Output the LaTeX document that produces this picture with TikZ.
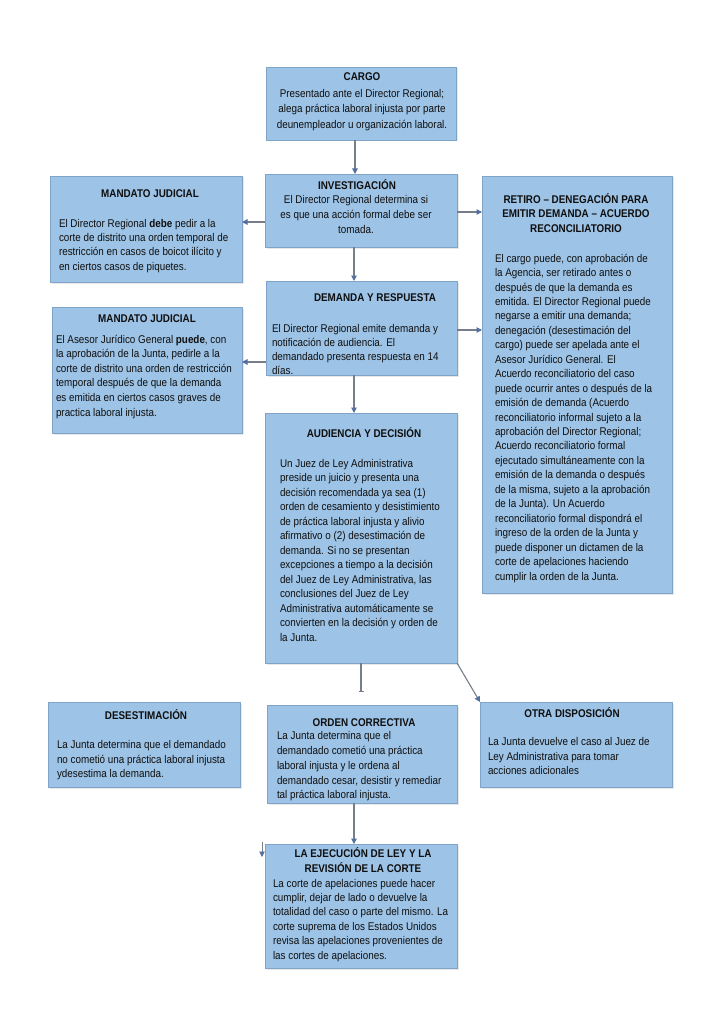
\documentclass[tikz,border=0pt]{standalone}
\usepackage{fontspec}
\setmainfont{Liberation Sans}[FakeStretch=0.88]
\usetikzlibrary{arrows.meta,shadows}
\definecolor{boxfill}{RGB}{157,195,230}
\definecolor{boxline}{RGB}{128,163,200}
\definecolor{linec}{RGB}{118,126,138}
\definecolor{tipc}{RGB}{84,112,160}
\definecolor{txtc}{RGB}{15,15,15}
\begin{document}
\begin{tikzpicture}[x=1pt,y=-1pt,
  box/.style={draw=boxline, line width=0.6pt, fill=boxfill, anchor=north west, inner sep=0pt, outer sep=0pt,
    drop shadow={shadow xshift=1.5pt, shadow yshift=-1.5pt, opacity=0.18}},
  hd/.style={inner sep=0pt, outer sep=0pt, anchor=north, align=center, text=txtc, font=\bfseries\fontsize{11.2}{#1}\selectfont},
  hd/.default=14.5,
  bd/.style={inner sep=0pt, outer sep=0pt, anchor=north west, align=left, text=txtc, font=\fontsize{11.2}{#1}\selectfont},
  bd/.default=14.5,
  bdc/.style={inner sep=0pt, outer sep=0pt, anchor=north, align=center, text=txtc, font=\fontsize{11.2}{#1}\selectfont},
  bdc/.default=14.5,
  arr/.style={draw=linec, line width=1.1pt, -{Triangle[length=5.5pt,width=5.5pt,color=tipc]}},
  barr/.style={draw=linec, line width=1.1pt, -{Bar[width=5pt,line width=1.1pt]}}
]
\useasboundingbox (0,0) rectangle (721,1024);
\fill[white] (0,0) rectangle (721,1024);

% ---------- boxes ----------
\node[box, minimum width=190pt, minimum height=73pt] (cargo) at (266,67) {};
\node[box, minimum width=192pt, minimum height=73pt] (invest) at (265,174) {};
\node[box, minimum width=191pt, minimum height=94pt] (demanda) at (266,281) {};
\node[box, minimum width=192pt, minimum height=106pt] (mand1) at (50,176) {};
\node[box, minimum width=190pt, minimum height=126pt] (mand2) at (52,307) {};
\node[box, minimum width=190pt, minimum height=417pt] (retiro) at (482,176) {};
\node[box, minimum width=192pt, minimum height=250pt] (aud) at (265,413) {};
\node[box, minimum width=192pt, minimum height=85pt] (desest) at (48,702) {};
\node[box, minimum width=190pt, minimum height=98pt] (orden) at (267,705) {};
\node[box, minimum width=192pt, minimum height=85pt] (otra) at (480,702) {};
\node[box, minimum width=192pt, minimum height=124pt] (ejec) at (265,844) {};

% ---------- texts ----------
\node[hd] (cargo-h) at (362,70.4) {\strut CARGO};
\node[bdc=15.5] (cargo-b) at (362,86.5) {\strut Presentado ante el Director Regional;\\alega práctica laboral injusta por parte\\deunempleador u organización laboral.};

\node[hd] (invest-h) at (357,179) {\strut INVESTIGACIÓN};
\node[bdc=14.7] (invest-b) at (356,193.7) {\strut El Director Regional determina si\\es que una acción formal debe ser\\tomada.};

\node[hd] (demanda-h) at (375,291) {\strut DEMANDA Y RESPUESTA};
\node[bd=14.3] (demanda-b) at (272,322) {\strut El Director Regional emite demanda y\\notificación de audiencia. El\\demandado presenta respuesta en 14\\días.};

\node[hd] (mand1-h) at (150,187) {\strut MANDATO JUDICIAL};
\node[bd=14.4] (mand1-b) at (59,217) {\strut El Director Regional \textbf{debe} pedir a la\\corte de distrito una orden temporal de\\restricción en casos de boicot ilícito y\\en ciertos casos de piquetes.};

\node[hd] (mand2-h) at (147,312) {\strut MANDATO JUDICIAL};
\node[bd=14.6] (mand2-b) at (56,332.8) {\strut El Asesor Jurídico General \textbf{puede}, con\\la aprobación de la Junta, pedirle a la\\corte de distrito una orden de restricción\\temporal después de que la demanda\\es emitida en ciertos casos graves de\\practica laboral injusta.};

\node[hd] (retiro-h) at (576,193) {\strut RETIRO – DENEGACIÓN PARA\\EMITIR DEMANDA – ACUERDO\\RECONCILIATORIO};
\node[bd=14.45] (retiro-b) at (495,252) {\strut El cargo puede, con aprobación de\\la Agencia, ser retirado antes o\\después de que la demanda es\\emitida. El Director Regional puede\\negarse a emitir una demanda;\\denegación (desestimación del\\cargo) puede ser apelada ante el\\Asesor Jurídico General. El\\Acuerdo reconciliatorio del caso\\puede ocurrir antes o después de la\\emisión de demanda (Acuerdo\\reconciliatorio informal sujeto a la\\aprobación del Director Regional;\\Acuerdo reconciliatorio formal\\ejecutado simultáneamente con la\\emisión de la demanda o después\\de la misma, sujeto a la aprobación\\de la Junta). Un Acuerdo\\reconciliatorio formal dispondrá el\\ingreso de la orden de la Junta y\\puede disponer un dictamen de la\\corte de apelaciones haciendo\\cumplir la orden de la Junta.};

\node[hd] (aud-h) at (364,427) {\strut AUDIENCIA Y DECISIÓN};
\node[bd=14.5] (aud-b) at (280,457) {\strut Un Juez de Ley Administrativa\\preside un juicio y presenta una\\decisión recomendada ya sea (1)\\orden de cesamiento y desistimiento\\de práctica laboral injusta y alivio\\afirmativo o (2) desestimación de\\demanda. Si no se presentan\\excepciones a tiempo a la decisión\\del Juez de Ley Administrativa, las\\conclusiones del Juez de Ley\\Administrativa automáticamente se\\convierten en la decisión y orden de\\la Junta.};

\node[hd] (desest-h) at (146,709) {\strut DESESTIMACIÓN};
\node[bd=14.2] (desest-b) at (57,739) {\strut La Junta determina que el demandado\\no cometió una práctica laboral injusta\\ydesestima la demanda.};

\node[hd] (orden-h) at (364,716) {\strut ORDEN CORRECTIVA};
\node[bd=14.7] (orden-b) at (277,729.7) {\strut La Junta determina que el\\demandado cometió una práctica\\laboral injusta y le ordena al\\demandado cesar, desistir y remediar\\tal práctica laboral injusta.};

\node[hd] (otra-h) at (572,707) {\strut OTRA DISPOSICIÓN};
\node[bd=14.2] (otra-b) at (488,736) {\strut La Junta devuelve el caso al Juez de\\Ley Administrativa para tomar\\acciones adicionales};

\node[hd=14] (ejec-h) at (363,847.2) {\strut LA EJECUCIÓN DE LEY Y LA\\REVISIÓN DE LA CORTE};
\node[bd=14.4] (ejec-b) at (273,877) {\strut La corte de apelaciones puede hacer\\cumplir, dejar de lado o devuelve la\\totalidad del caso o parte del mismo. La\\corte suprema de los Estados Unidos\\revisa las apelaciones provenientes de\\las cortes de apelaciones.};

% ---------- connectors ----------
\coordinate (vx1) at (355,0);
\coordinate (vx2) at (354,0);
\coordinate (hy1) at (0,222);
\coordinate (hy2) at (0,362);
\coordinate (hy3) at (0,212);
\coordinate (hy4) at (0,330);
\coordinate (barend) at (361,692);
\coordinate (stub1) at (262,842);
\coordinate (stub2) at (262,857);

\draw[arr] (cargo.south -| vx1) -- (invest.north -| vx1);
\draw[arr] (invest.south -| vx2) -- (demanda.north -| vx2);
\draw[arr] (demanda.south -| vx2) -- (aud.north -| vx2);
\draw[arr] (invest.west |- hy1) -- (mand1.east |- hy1);
\draw[arr] (demanda.west |- hy2) -- (mand2.east |- hy2);
\draw[arr] (invest.east |- hy3) -- (retiro.west |- hy3);
\draw[arr] (demanda.east |- hy4) -- (retiro.west |- hy4);
\draw[barr] (aud.south) -- (barend);
\draw[arr] (aud.south east) -- (otra.north west);
\draw[arr] (orden.south -| vx2) -- (ejec.north -| vx2);
\draw[arr, line width=0.8pt] (stub1) -- (stub2);
\end{tikzpicture}
\end{document}
